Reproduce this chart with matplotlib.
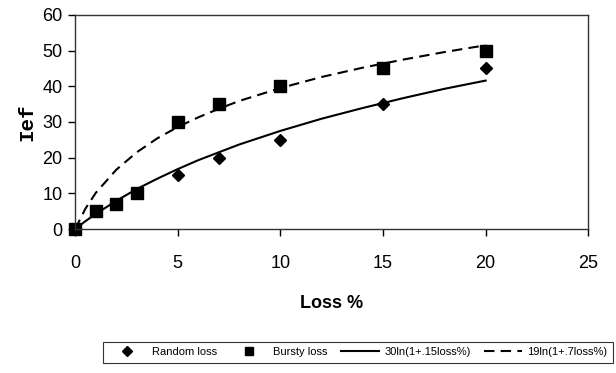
# Ief versus packet loss: measured points and fitted log curves
import matplotlib.pyplot as plt

plt.rcParams['font.family'] = ['Liberation Sans', 'DejaVu Sans']

# Measured points
loss_pts = [0, 1, 2, 3, 5, 7, 10, 15, 20]
random_loss = [0, 5, 7, 10, 15, 20, 25, 35, 45]
bursty_loss = [0, 5, 7, 10, 30, 35, 40, 45, 50]

# Fitted curves
curve_x = [0, 0.5, 1, 2, 3, 4, 5, 6, 7, 8, 10, 12, 14, 16, 18, 20]
fit_random = [0, 2.2, 4.2, 7.9, 11.2, 14.1, 16.8, 19.3, 21.5, 23.7, 27.5, 30.9, 33.9, 36.7, 39.3, 41.6]
fit_bursty = [0, 5.7, 10.1, 16.6, 21.5, 25.4, 28.6, 31.3, 33.7, 35.9, 39.5, 42.6, 45.2, 47.5, 49.6, 51.5]

fig = plt.figure(figsize=(6.16, 3.73), dpi=100)
ax = fig.add_axes([0.122, 0.386, 0.833, 0.574])

ax.plot(loss_pts, random_loss, 'D', color='black', markersize=6, clip_on=False, label='Random loss')
ax.plot(loss_pts, bursty_loss, 's', color='black', markersize=8, clip_on=False, label='Bursty loss')
ax.plot(curve_x, fit_random, '-', color='black', lw=1.5, label='30ln(1+.15loss%)')
ax.plot(curve_x, fit_bursty, '--', color='black', lw=1.5, dashes=(5, 3), label='19ln(1+.7loss%)')

ax.set_xlim(0, 25)
ax.set_ylim(0, 60)
ax.set_xticks([0, 5, 10, 15, 20, 25])
ax.set_yticks([0, 10, 20, 30, 40, 50, 60])
ax.tick_params(labelsize=13, direction='out', length=5, width=1)
ax.tick_params(axis='x', pad=14)
ax.tick_params(axis='y', pad=4)
for s in ax.spines.values():
    s.set_linewidth(1)
    s.set_color('#333333')

ax.set_xlabel('Loss %', fontsize=13, fontweight='bold', labelpad=16)
ax.set_ylabel('Ief', fontsize=15, fontweight='bold', family='Liberation Mono', labelpad=4)

leg = fig.legend(loc='center', bbox_to_anchor=(0.581, 0.056), ncol=4,
                 prop={'family': ['Liberation Sans Narrow', 'Liberation Sans'], 'size': 8},
                 frameon=True, fancybox=False, edgecolor='black', handlelength=3.4,
                 handletextpad=0.5, columnspacing=1.2, borderpad=0.5, markerscale=0.8)
leg.get_frame().set_linewidth(0.8)

fig.savefig('out.png', dpi=100)
